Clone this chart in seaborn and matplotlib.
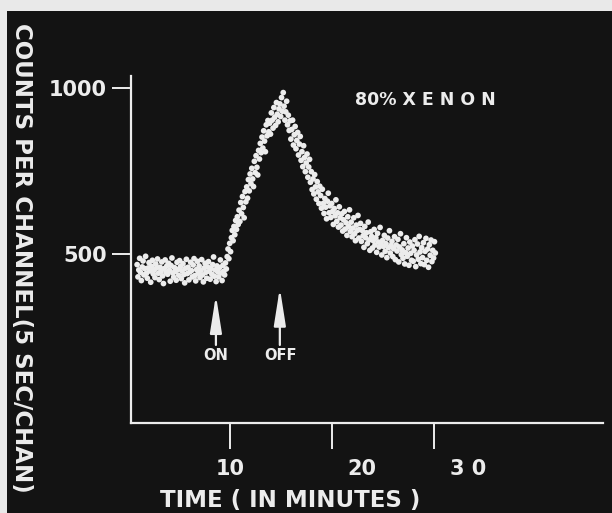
import numpy as np
import pandas as pd
import matplotlib
matplotlib.use("Agg")
import matplotlib.pyplot as plt
from matplotlib.patches import Rectangle
import seaborn as sns

# ---- data (counts per 5-second channel) ----
start_min = 0.9          # time of first channel (minutes)
chan_sec = 5             # seconds per channel
counts = [
    468, 431, 452, 487, 445, 420, 461, 479, 437, 456, 493, 442,
    427, 458, 474, 449, 415, 463, 481, 440, 452, 429, 470, 458,
    485, 442, 423, 460, 448, 476, 434, 411, 456, 482, 445, 464,
    439, 472, 451, 418, 465, 488, 443, 430, 459, 447, 421, 475,
    453, 436, 480, 462, 426, 449, 471, 438, 413, 457, 484, 441,
    460, 422, 446, 475, 450, 431, 467, 486, 435, 419, 453, 478,
    442, 464, 429, 451, 483, 437, 416, 458, 472, 445, 427, 461,
    477, 448, 424, 456, 439, 468, 491, 433, 452, 417, 464, 446,
    431, 459, 482, 443, 420, 466, 448, 437, 473, 455, 492, 515,
    486, 532, 507, 549, 571, 540, 583, 558, 601, 574, 612, 589,
    632, 598, 655, 621, 673, 640, 609, 688, 657, 702, 668, 724,
    690, 741, 712, 758, 726, 703, 779, 745, 796, 761, 738, 812,
    786, 833, 805, 852, 819, 871, 840, 808, 889, 856, 902, 868,
    894, 861, 925, 903, 879, 941, 912, 887, 956, 921, 898, 937,
    952, 914, 971, 930, 986, 945, 903, 928, 960, 889, 918, 872,
    901, 846, 875, 903, 828, 859, 884, 817, 842, 866, 798, 831,
    854, 782, 808, 763, 826, 790, 748, 774, 801, 731, 762, 785,
    716, 748, 694, 726, 681, 739, 702, 665, 718, 687, 652, 704,
    676, 638, 695, 652, 622, 667, 641, 606, 659, 683, 624, 645,
    610, 652, 628, 589, 637, 615, 663, 598, 624, 581, 642, 609,
    587, 621, 569, 603, 628, 575, 594, 556, 612, 583, 633, 568,
    596, 552, 578, 609, 561, 540, 587, 571, 616, 548, 574, 592,
    538, 571, 555, 520, 583, 549, 564, 531, 596, 542, 511, 567,
    553, 518, 540, 574, 527, 549, 505, 562, 536, 521, 580, 530,
    497, 541, 523, 556, 508, 531, 489, 548, 519, 570, 503, 526,
    538, 492, 516, 552, 483, 527, 509, 544, 476, 521, 561, 498,
    512, 487, 531, 470, 504, 549, 493, 518, 466, 536, 502, 481,
    524, 478, 511, 543, 462, 497, 530, 484, 553, 506, 471, 519,
    489, 534, 468, 508, 547, 481, 515, 460, 528, 496, 542, 477,
    511, 488, 537, 503,
]
channel = np.arange(len(counts))
time_min = start_min + channel * chan_sec / 60.0

x_tick_marks = [10, 20, 30]
x_tick_label_pos = [10.07, 22.9, 33.4]
x_tick_labels = ["10", "20", "3 0"]
y_ticks = [500, 1000]
y_tick_labels = ["500", "1000"]
on_time, off_time = 8.63, 14.9

df = pd.DataFrame({"time": time_min, "counts": counts})

# ---- style ----
BG = "#131313"
FG = "#ececec"
sns.set_theme(style="dark")
plt.rcParams["font.family"] = ["DejaVu Sans"]

fig = plt.figure(figsize=(6.12, 5.13), dpi=100, facecolor=BG)
# light scan borders
fig.patches.append(Rectangle((0, 1 - 11 / 513), 1, 11 / 513, transform=fig.transFigure,
                             facecolor="#e9e9e9", edgecolor="none", zorder=0))
fig.patches.append(Rectangle((0, 0), 7 / 612, 1, transform=fig.transFigure,
                             facecolor="#e9e9e9", edgecolor="none", zorder=0))

ax = fig.add_axes([131 / 612, 90 / 513, (603 - 131) / 612, (437 - 90) / 513])
ax.set_facecolor(BG)

sns.scatterplot(data=df, x="time", y="counts", ax=ax, color=FG, s=17,
                edgecolor="none", linewidth=0, legend=False)

ax.set_xlim(0.3, 46.6)
ax.set_ylim(-9, 1036)
ax.grid(False)

for side in ["top", "right"]:
    ax.spines[side].set_visible(False)
for side in ["left", "bottom"]:
    ax.spines[side].set_color(FG)
    ax.spines[side].set_linewidth(1.6)

ax.tick_params(which="both", bottom=True, left=True, top=False, right=False)

# y ticks
ax.set_yticks(y_ticks)
ax.set_yticklabels(y_tick_labels, fontsize=15, fontweight="bold", color=FG)
ax.tick_params(axis="y", direction="out", length=13.5, width=1.4, color=FG, pad=4)

# x ticks: marks at 10/20/30, labels placed where the original had them
ax.set_xticks(x_tick_label_pos)
ax.set_xticklabels(x_tick_labels, fontsize=15, fontweight="bold", color=FG)
ax.tick_params(axis="x", which="major", length=0, pad=26)
ax.set_xticks(x_tick_marks, minor=True)
ax.tick_params(axis="x", which="minor", direction="out", length=19, width=1.4, color=FG)

ax.set_xlabel("TIME ( IN MINUTES )", fontsize=16.5, fontweight="bold", color=FG)
ax.xaxis.set_label_coords((290 - 131) / (603 - 131), -(489 - 423) / (437 - 90))
ax.set_ylabel("")

fig.text(21 / 612, 1 - 258 / 513, "COUNTS PER CHANNEL(5 SEC/CHAN)", rotation=270,
         ha="center", va="center", fontsize=16.5, fontweight="bold", color=FG)

ax.text(22.3, 1000 - (100 - 88) / 0.332, "80% X E N O N", fontsize=12.5, fontweight="bold",
        color=FG, ha="left", va="center")

# ON / OFF arrows
arrow_kw = dict(arrowstyle="-|>,head_length=1.9,head_width=0.3", color=FG, lw=1.6,
                shrinkA=0, shrinkB=0)
ax.annotate("", xy=(on_time, 376), xytext=(on_time, 226), arrowprops=arrow_kw)
ax.annotate("", xy=(off_time, 398), xytext=(off_time, 226), arrowprops=arrow_kw)
ax.text(on_time, 193, "ON", fontsize=10.5, fontweight="bold", color=FG, ha="center", va="center")
ax.text(off_time + 0.1, 193, "OFF", fontsize=10.5, fontweight="bold", color=FG, ha="center", va="center")

fig.savefig("out.png", dpi=100, facecolor=BG)
